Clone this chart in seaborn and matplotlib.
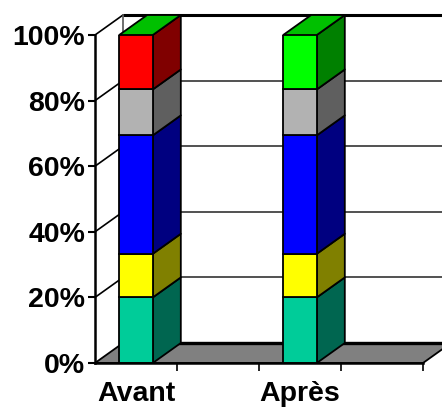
#!/usr/bin/env python3
"""
Stacked 3D-look bars, Avant / Apres.
"""

import matplotlib
matplotlib.use('Agg')
import matplotlib.pyplot as plt
from matplotlib.patches import Polygon
import seaborn as sns

categories = ['Avant', 'vide1', 'Après', 'vide2']
bar_names = ['Avant', 'Après']

# share of each block, bottom to top
teal_values = [20.0, 20.0]
yellow_values = [13.3, 13.3]
blue_values = [36.1, 36.1]
grey_values = [14.0, 14.0]
top_values = [16.6, 16.6]

series = [teal_values, yellow_values, blue_values, grey_values, top_values]
front_colors = [['#00CC99'] * 2, ['#FFFF00'] * 2, ['#0000FF'] * 2, ['#B2B2B2'] * 2, ['#FF0000', '#00FF00']]
side_colors = [['#006650'] * 2, ['#808000'] * 2, ['#000080'] * 2, ['#5F5F5F'] * 2, ['#800000', '#008000']]
lid_colors = ['#00C000', '#00C000']

y_ticks = [0, 20, 40, 60, 80, 100]
y_tick_labels = ['0%', '20%', '40%', '60%', '80%', '100%']

# depth of the fake 3D box, in data units
DX = 28 / 82
DY = 20 / 3.28
BAR_W = 0.41

sns.set_style('white')
plt.rcParams['font.family'] = ['Liberation Sans', 'DejaVu Sans']

fig = plt.figure(figsize=(4.42, 4.08), dpi=100, facecolor='white')
ax = fig.add_axes([95 / 442, 45 / 408, 328 / 442, 328 / 408])
ax.patch.set_visible(False)


def add_face(points, color, z, lw=1.3):
    ax.add_patch(Polygon(points, closed=True, facecolor=color, edgecolor='black',
                         linewidth=lw, zorder=z, clip_on=False, joinstyle='round'))


def draw_walls():
    left, right = -0.5, 3.5
    for y in y_ticks:
        color = '#000000' if y in (0, 100) else '#333333'
        lw = 2.2 if y in (0, 100) else 1.2
        ax.plot([left + DX, right + DX], [y + DY, y + DY], color=color, lw=lw,
                zorder=1, clip_on=False, solid_capstyle='butt')
        if y > 0:
            ax.plot([left, left + DX], [y, y + DY], color='black', lw=1.2, zorder=1, clip_on=False)
    ax.plot([left + DX, left + DX], [DY, 100 + DY], color='#555555', lw=1.2, zorder=1, clip_on=False)
    add_face([(left, 0), (right, 0), (right + DX, DY), (left + DX, DY)], '#808080', 2)
    ax.plot([left + DX, right + DX], [DY, DY], color='black', lw=2.4, zorder=2.5, clip_on=False)


def draw_bars():
    for b, name in enumerate(bar_names):
        pos = categories.index(name)
        bottom = 0
        for s, values in enumerate(series):
            val = values[b]
            sns.barplot(x=[name], y=[val], order=categories, bottom=bottom, width=BAR_W,
                        color=front_colors[s][b], saturation=1, edgecolor='black',
                        linewidth=1.3, ax=ax, zorder=4)
            right = pos + BAR_W / 2
            add_face([(right, bottom), (right + DX, bottom + DY),
                      (right + DX, bottom + val + DY), (right, bottom + val)],
                     side_colors[s][b], 3)
            bottom += val
        left = pos - BAR_W / 2
        right = pos + BAR_W / 2
        add_face([(left, bottom), (right, bottom), (right + DX, bottom + DY),
                  (left + DX, bottom + DY)], lid_colors[b], 3)


draw_walls()
draw_bars()

ax.set_xlim(-0.5, 3.5)
ax.set_ylim(0, 100)
ax.set_xlabel('')
ax.set_ylabel('')

ax.set_yticks(y_ticks)
ax.set_yticklabels(y_tick_labels, fontsize=20.5, fontweight='bold', color='black')
ax.tick_params(axis='y', left=True, length=5, width=1.5, color='black', pad=2)

# ticks sit between categories, labels under the bars
ax.set_xticks([0.5, 1.5, 2.5, 3.5])
ax.set_xticklabels([])
ax.set_xticks([0, 2], minor=True)
ax.set_xticklabels(bar_names, minor=True, fontsize=20.5, fontweight='bold', color='black')
ax.tick_params(axis='x', which='major', bottom=True, length=6, width=1.2, color='black')
ax.tick_params(axis='x', which='minor', bottom=False, length=0, pad=13)

for side in ['top', 'right']:
    ax.spines[side].set_visible(False)
for side in ['left', 'bottom']:
    ax.spines[side].set_linewidth(1.8)
    ax.spines[side].set_color('black')
    ax.spines[side].set_zorder(6)

fig.savefig('out.png', dpi=100)
